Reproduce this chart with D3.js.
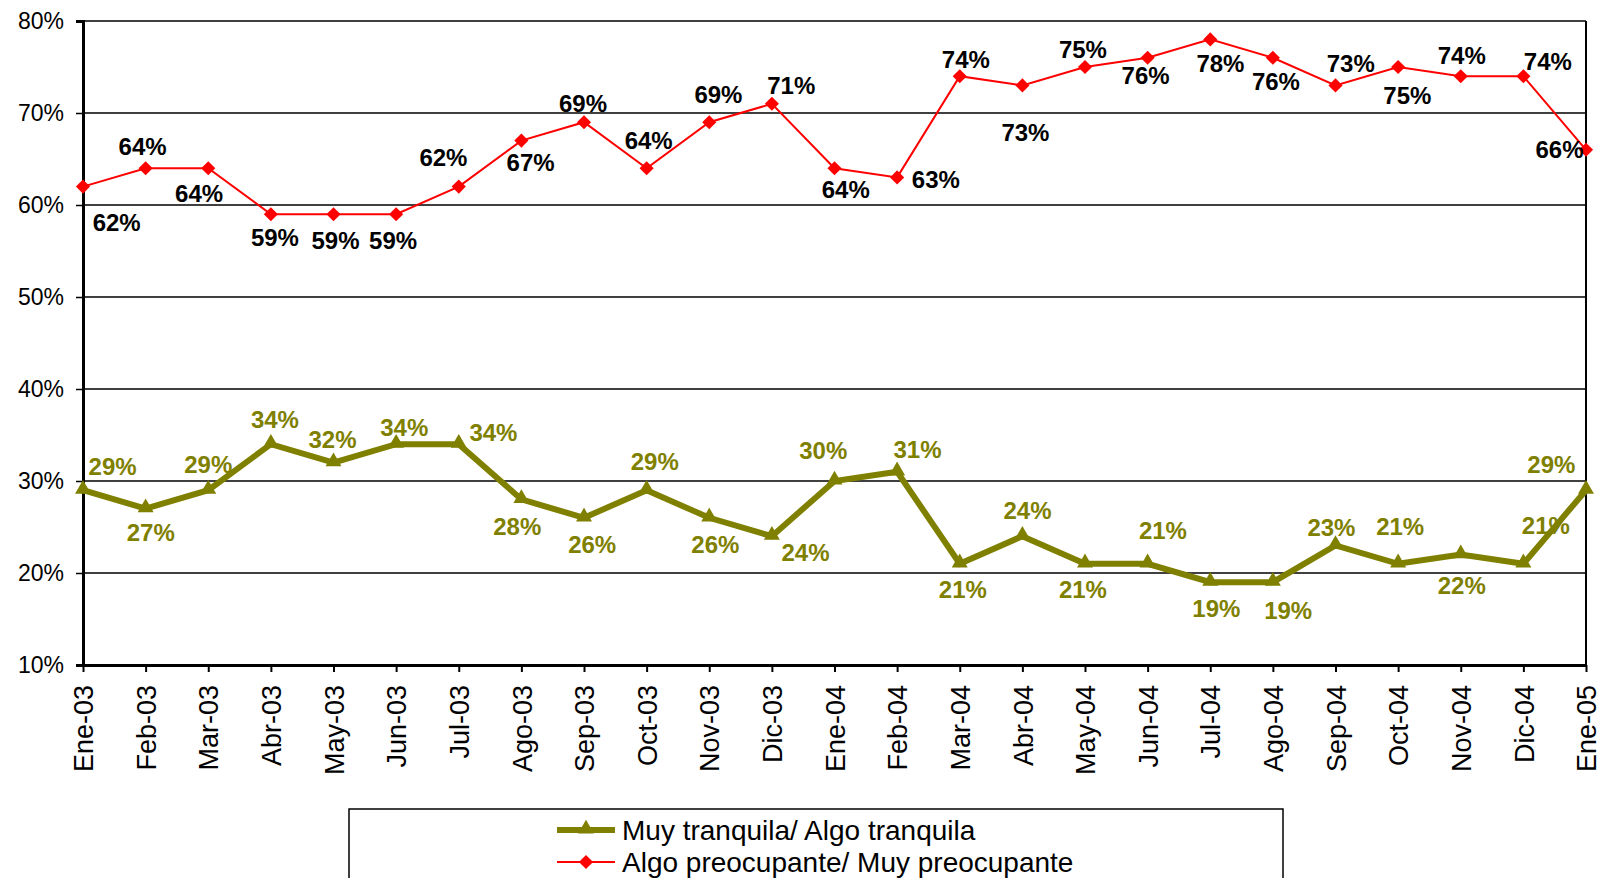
<!DOCTYPE html>
<html>
<head>
<meta charset="utf-8">
<script src="https://cdn.jsdelivr.net/npm/d3@7"></script>
<style>
  body { margin: 0; background: #fff; }
  svg { display: block; font-family: Arial, "Liberation Sans", sans-serif; }
</style>
</head>
<body>
<div id="chart"></div>
<script>
// Months on the x axis
const months = ["Ene-03", "Feb-03", "Mar-03", "Abr-03", "May-03", "Jun-03", "Jul-03", "Ago-03",
  "Sep-03", "Oct-03", "Nov-03", "Dic-03", "Ene-04", "Feb-04", "Mar-04", "Abr-04", "May-04",
  "Jun-04", "Jul-04", "Ago-04", "Sep-04", "Oct-04", "Nov-04", "Dic-04", "Ene-05"];

// Series values (percent)
const tranquila = [29, 27, 29, 34, 32, 34, 34, 28, 26, 29, 26, 24, 30, 31, 21, 24, 21, 21, 19, 19, 23, 21, 22, 21, 29];
const preocupante = [62, 64, 64, 59, 59, 59, 62, 67, 69, 64, 69, 71, 64, 63, 74, 73, 75, 76, 78, 76, 73, 75, 74, 74, 66];

const seriesNames = ["Muy tranquila/ Algo tranquila", "Algo preocupante/ Muy preocupante"];
const yTicks = [0.1, 0.2, 0.3, 0.4, 0.5, 0.6, 0.7, 0.8];

// Label offsets from each point (px), as placed in the original chart
const tranqLabelOffsets = [[29,-23],[5,23],[0,-25],[4,-24],[-1,-23],[8,-17],[34,-12],[-4,26],[8,26],
  [8,-28],[6,26],[33,16],[-11,-30],[20,-22],[3,25],[5,-25],[-2,25],[15,-33],[6,26],[15,28],
  [-4,-18],[2,-37],[1,30],[22,-38],[-34,-25]];
const preocLabelOffsets = [[33,35],[-3,-21],[-9,25],[4,23],[2,26],[-3,26],[-15,-29],[9,21],[-1,-18],
  [2,-27],[9,-27],[19,-18],[11,21],[38,2],[6,-17],[3,46],[-2,-17],[-2,17],[10,23],[3,23],
  [15,-22],[9,28],[1,-20],[24,-15],[-26,0]];

const W = 1597, H = 878;
const margin = { top: 21, right: 11, bottom: 213, left: 83 };
const olive = "#808000", red = "#ff0000";

const svg = d3.select("#chart").append("svg")
  .attr("width", W)
  .attr("height", H);

const x = d3.scalePoint()
  .domain(months)
  .range([margin.left, W - margin.right]);

const y = d3.scaleLinear()
  .domain([0.1, 0.8])
  .range([H - margin.bottom, margin.top]);

// Gridlines
svg.append("g")
  .selectAll("line")
  .data(yTicks)
  .enter()
  .append("line")
  .attr("x1", margin.left)
  .attr("x2", W - margin.right)
  .attr("y1", d => y(d))
  .attr("y2", d => y(d))
  .attr("stroke", "#000")
  .attr("stroke-width", 1.5);

// Right border
svg.append("line")
  .attr("x1", W - margin.right).attr("x2", W - margin.right)
  .attr("y1", margin.top).attr("y2", H - margin.bottom)
  .attr("stroke", "#000").attr("stroke-width", 2);

// Y axis
const yAxis = svg.append("g")
  .attr("transform", `translate(${margin.left},0)`)
  .call(d3.axisLeft(y).tickValues(yTicks).tickFormat(d3.format(".0%")).tickSize(7).tickPadding(12));
yAxis.select(".domain").attr("stroke-width", 3);
yAxis.selectAll(".tick line").attr("stroke-width", 1.5);
yAxis.selectAll("text").attr("font-size", 23).attr("fill", "#000")
  .attr("font-family", "Arial, 'Liberation Sans', sans-serif");

// X axis
const xAxis = svg.append("g")
  .attr("transform", `translate(0,${H - margin.bottom})`)
  .call(d3.axisBottom(x).tickSize(7).tickSizeOuter(0));
xAxis.select(".domain").attr("stroke-width", 3);
xAxis.selectAll(".tick line").attr("stroke-width", 2);
xAxis.selectAll("text")
  .attr("font-size", 27)
  .attr("fill", "#000")
  .attr("font-family", "Arial, 'Liberation Sans', sans-serif")
  .attr("text-anchor", "end")
  .attr("transform", "rotate(-90)")
  .attr("x", -20)
  .attr("y", 0)
  .attr("dy", "0.36em");

const line = d3.line()
  .x((d, i) => x(months[i]))
  .y(d => y(d / 100));

// Series: Muy tranquila (olive, thick, triangles)
svg.append("path")
  .datum(tranquila)
  .attr("fill", "none")
  .attr("stroke", olive)
  .attr("stroke-width", 6)
  .attr("stroke-linejoin", "miter")
  .attr("d", line);

svg.append("g")
  .selectAll("path")
  .data(tranquila)
  .enter()
  .append("path")
  .attr("d", d3.symbol(d3.symbolTriangle, 110))
  .attr("transform", (d, i) => `translate(${x(months[i])},${y(d / 100) - 1})`)
  .attr("fill", olive);

// Series: Algo preocupante (red, thin, diamonds)
svg.append("path")
  .datum(preocupante)
  .attr("fill", "none")
  .attr("stroke", red)
  .attr("stroke-width", 2)
  .attr("d", line);

svg.append("g")
  .selectAll("rect")
  .data(preocupante)
  .enter()
  .append("rect")
  .attr("x", -5).attr("y", -5)
  .attr("width", 10).attr("height", 10)
  .attr("transform", (d, i) => `translate(${x(months[i])},${y(d / 100)}) rotate(45)`)
  .attr("fill", red);

// Data labels
function addLabels(values, offsets, color) {
  svg.append("g")
    .selectAll("text")
    .data(values)
    .enter()
    .append("text")
    .attr("x", (d, i) => x(months[i]) + offsets[i][0] * 1.02)
    .attr("y", (d, i) => y(d / 100) + offsets[i][1] * 1.02)
    .attr("dy", "0.36em")
    .attr("text-anchor", "middle")
    .attr("font-size", 24)
    .attr("font-weight", "bold")
    .attr("fill", color)
    .text(d => d + "%");
}
addLabels(tranquila, tranqLabelOffsets, olive);
addLabels(preocupante, preocLabelOffsets, "#000");

// Legend
const legend = svg.append("g");
legend.append("rect")
  .attr("x", 349).attr("y", 809)
  .attr("width", 934).attr("height", 120)
  .attr("fill", "#fff")
  .attr("stroke", "#000")
  .attr("stroke-width", 1.5);

const legendItems = [
  { name: seriesNames[0], color: olive, width: 6, marker: "tri" },
  { name: seriesNames[1], color: red, width: 2, marker: "dia" }
];
legendItems.forEach((it, i) => {
  const ly = 830 + i * 32;
  legend.append("line")
    .attr("x1", 557).attr("x2", 615)
    .attr("y1", ly).attr("y2", ly)
    .attr("stroke", it.color)
    .attr("stroke-width", it.width);
  if (it.marker === "tri") {
    legend.append("path")
      .attr("d", d3.symbol(d3.symbolTriangle, 110))
      .attr("transform", `translate(586,${ly - 1})`)
      .attr("fill", it.color);
  } else {
    legend.append("rect")
      .attr("x", -5).attr("y", -5).attr("width", 10).attr("height", 10)
      .attr("transform", `translate(586,${ly}) rotate(45)`)
      .attr("fill", it.color);
  }
  legend.append("text")
    .attr("x", 622)
    .attr("y", ly)
    .attr("dy", "0.36em")
    .attr("font-size", 28)
    .attr("fill", "#000")
    .text(it.name);
});
</script>
</body>
</html>
